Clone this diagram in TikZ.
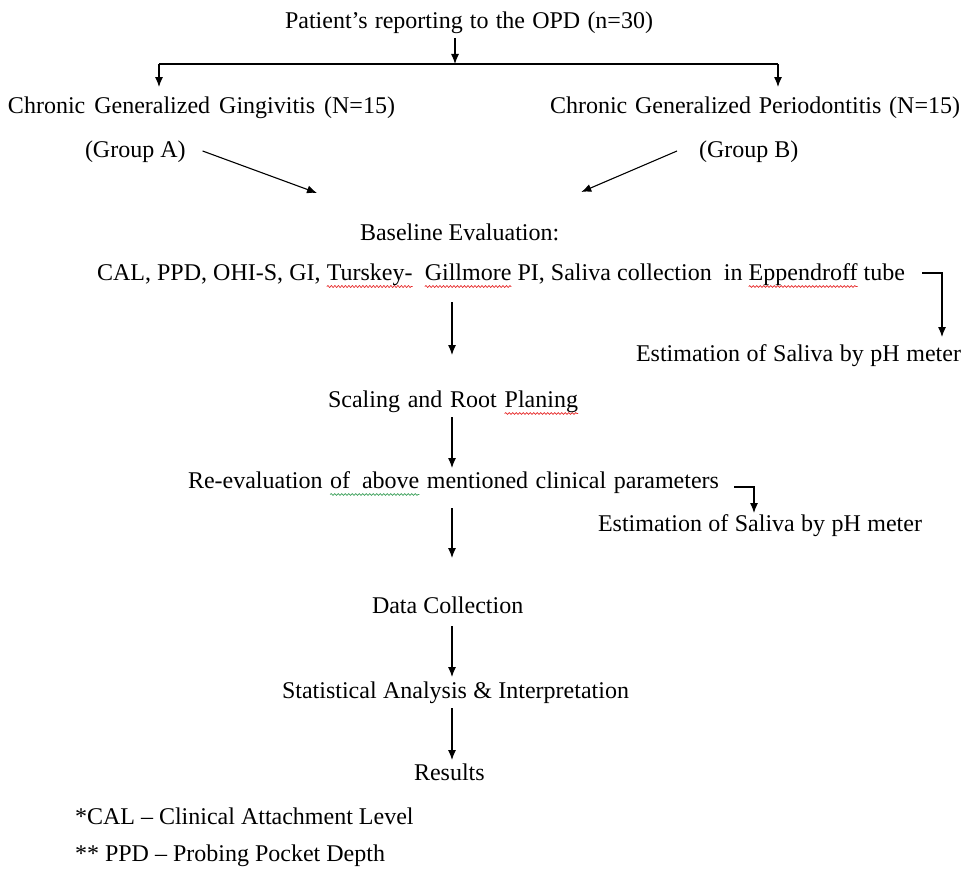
\documentclass[tikz,border=0pt]{standalone}
\usepackage{fontspec}
\setmainfont{Liberation Serif}
\usetikzlibrary{arrows.meta,decorations.pathmorphing}
\definecolor{spellred}{RGB}{230,40,40}
\definecolor{gramgreen}{RGB}{60,160,90}
\newsavebox\wavebox
\newlength\wavelen
\newcommand\wavy[2]{\sbox\wavebox{#2}\setlength\wavelen{\wd\wavebox}\rlap{\tikz[overlay,x=1pt,y=1pt]\draw[#1,line width=0.7pt,decorate,decoration={snake,amplitude=0.9pt,segment length=3.5pt}] (0pt,-6.5pt) -- (\wavelen,-6.5pt);}\usebox\wavebox}
\newcommand\fitw[2]{\makebox[#1][s]{#2}}
\begin{document}
\begin{tikzpicture}[x=1pt,y=-1pt,
  every node/.style={inner sep=0pt,outer sep=0pt,anchor=base west,text height=17pt,text depth=5pt,font=\fontsize{24}{28}\selectfont},
  arr/.style={-{Latex[length=10pt,width=8pt]},line width=1.1pt}]
\useasboundingbox (0,0) rectangle (965,875);

\node (pt) at (285,29) {\fitw{368pt}{Patient’s reporting to the OPD (n=30)}};
\node (gg) at (8,113) {\fitw{387pt}{Chronic Generalized Gingivitis (N=15)}};
\node (gp) at (550,113) {\fitw{410pt}{Chronic Generalized Periodontitis (N=15)}};
\node (ga) at (85,157) {(Group A)};
\node (gb) at (699,157) {(Group B)};
\node (be) at (360,240) {Baseline Evaluation:};
\node (cal) at (97,280) {\fitw{808pt}{CAL, PPD, OHI-S, GI, \wavy{spellred}{Turskey-}\ \ \wavy{spellred}{Gillmore} PI, Saliva collection\ \ in \wavy{spellred}{Eppendroff} tube}};
\node (e1) at (636,361) {\fitw{325pt}{Estimation of Saliva by pH meter}};
\node (sc) at (328,407) {\fitw{250pt}{Scaling and Root \wavy{spellred}{Planing}}};
\node (re) at (188,488) {\fitw{531pt}{Re-evaluation \wavy{gramgreen}{of\ \ above} mentioned clinical parameters}};
\node (e2) at (598,531) {\fitw{324pt}{Estimation of Saliva by pH meter}};
\node (dc) at (372,613) {Data Collection};
\node (st) at (282,698) {\fitw{347pt}{Statistical Analysis \& Interpretation}};
\node (rs) at (414,780) {Results};
\node (f1) at (75,824) {*CAL – Clinical Attachment Level};
\node (f2) at (75,861) {** PPD – Probing Pocket Depth};

\coordinate (split) at (455,64);
\coordinate (bl) at (159,64);
\coordinate (br) at (778,64);
\coordinate (col) at (452,0);

\draw[arr,shorten <=4pt] (pt.south -| split) -- (split);
\draw[line width=1.5pt] (bl) -- (br);
\draw[arr,shorten >=9pt] (bl) -- (bl |- gg.north);
\draw[arr,shorten >=9pt] (br) -- (br |- gp.north);
\draw[arr] ([xshift=17pt]ga.east) -- ([xshift=-43pt,yshift=30pt]be.north west);
\draw[arr] ([xshift=-22pt]gb.west) -- ([xshift=22pt,yshift=31pt]be.north east);
\draw[arr] ([xshift=17pt,yshift=1pt]cal.east) -| ([xshift=-19pt,yshift=7pt]e1.north east);
\draw[arr,shorten <=17pt,shorten >=35pt] (cal.south -| col) -- (sc.north -| col);
\draw[arr,shorten <=5pt,shorten >=3pt] (sc.south -| col) -- (re.north -| col);
\draw[arr] ([xshift=15pt,yshift=-5pt]re.east) -| ([xshift=156pt,yshift=1pt]e2.north west);
\draw[arr,shorten <=15pt,shorten >=38pt] (re.south -| col) -- (dc.north -| col);
\draw[arr,shorten <=8pt,shorten >=4pt] (dc.south -| col) -- (st.north -| col);
\draw[arr,shorten <=5pt,shorten >=3pt] (st.south -| col) -- (rs.north -| col);
\end{tikzpicture}
\end{document}
